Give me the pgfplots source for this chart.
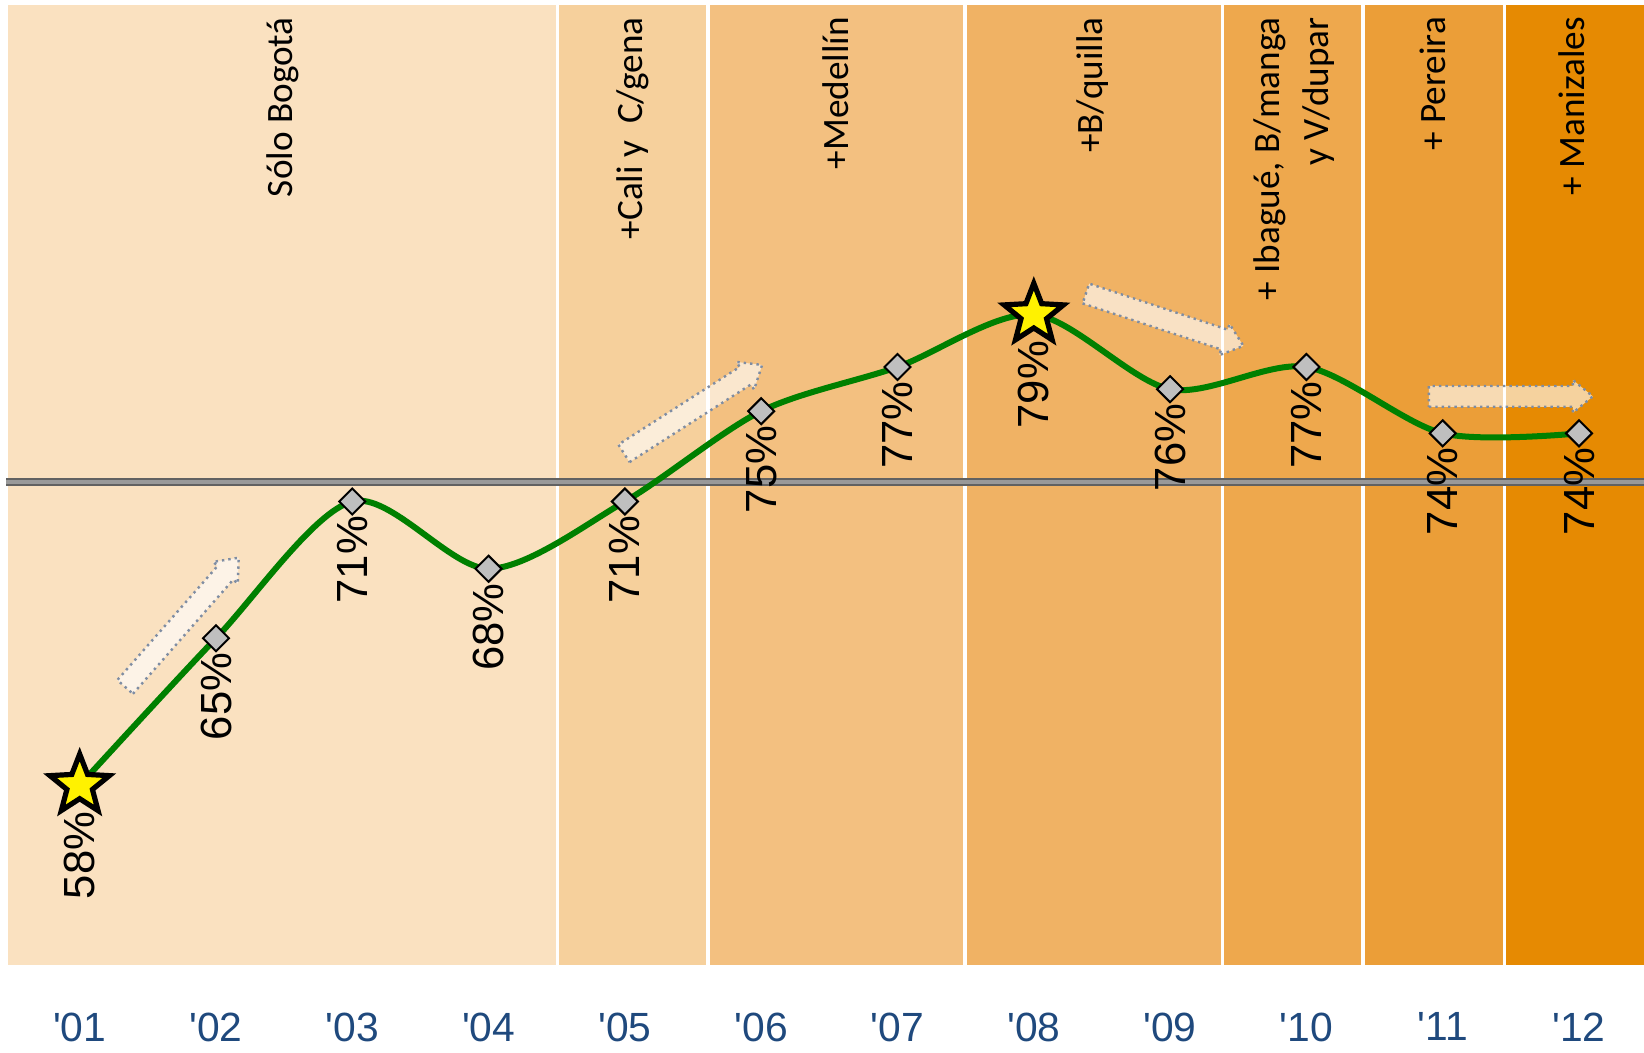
\documentclass[border=0pt]{standalone}
\usepackage{fontspec}
\setmainfont{Liberation Sans}
\newfontfamily\carlito{Carlito}
\newfontfamily\tickfont{Liberation Sans}[Ligatures=TeXOff]
\usepackage{pgfplots}
\pgfplotsset{compat=1.18}
\definecolor{bA}{HTML}{FAE1C0}
\definecolor{bB}{HTML}{F6D09C}
\definecolor{bC}{HTML}{F3C080}
\definecolor{bD}{HTML}{F0B264}
\definecolor{bE}{HTML}{EEA84D}
\definecolor{bF}{HTML}{EB9E38}
\definecolor{bG}{HTML}{E68A02}
\definecolor{tickblue}{HTML}{1F497D}
\definecolor{lgreen}{HTML}{008000}
\definecolor{mgray}{HTML}{BFBFBF}
\definecolor{arrowgray}{HTML}{7F8DA3}
\pgfdeclareplotmark{fivestar}{%
  \pgfpathmoveto{\pgfqpointpolar{90}{\pgfplotmarksize}}%
  \pgfpathlineto{\pgfqpointpolar{126}{0.43\pgfplotmarksize}}%
  \pgfpathlineto{\pgfqpointpolar{162}{\pgfplotmarksize}}%
  \pgfpathlineto{\pgfqpointpolar{198}{0.43\pgfplotmarksize}}%
  \pgfpathlineto{\pgfqpointpolar{234}{\pgfplotmarksize}}%
  \pgfpathlineto{\pgfqpointpolar{270}{0.43\pgfplotmarksize}}%
  \pgfpathlineto{\pgfqpointpolar{306}{\pgfplotmarksize}}%
  \pgfpathlineto{\pgfqpointpolar{342}{0.43\pgfplotmarksize}}%
  \pgfpathlineto{\pgfqpointpolar{18}{\pgfplotmarksize}}%
  \pgfpathlineto{\pgfqpointpolar{54}{0.43\pgfplotmarksize}}%
  \pgfpathclose\pgfusepathqfillstroke}

\pgfplotstableread{
x  y      lab
1  58.0   {}
2  64.56  65\%
3  70.66  71\%
4  67.66  68\%
5  70.66  71\%
6  74.69  75\%
7  76.66  77\%
8  79.0   {}
9  75.67  76\%
10 76.66  77\%
11 73.70  74\%
12 73.70  74\%
}\mainseries

\pgfplotstableread{
x  y     lab
1  58.0  58\%
8  79.0  79\%
}\starseries

\newcommand{\blockarrow}[3]{%
  \begin{scope}[shift={(#1)}, rotate=#2]
    \filldraw[draw=arrowgray, densely dotted, line width=0.6pt, fill=white, fill opacity=0.62]
      (-#3/2,-2.6pt) -- (#3/2-5pt,-2.6pt) -- (#3/2-5pt,-4.1pt) -- (#3/2,0pt)
      -- (#3/2-5pt,4.1pt) -- (#3/2-5pt,2.6pt) -- (-#3/2,2.6pt) -- cycle;
  \end{scope}}

\begin{document}
\begin{tikzpicture}
\useasboundingbox (-2.1pt,-21.85pt) rectangle (408.9pt,241.15pt);
\begin{axis}[
  at={(0,0)}, anchor=south west,
  width=408.9pt, height=239.85pt, scale only axis,
  xmin=0.477, xmax=12.477, ymin=50, ymax=92.8,
  axis line style={draw=none},
  ytick=\empty,
  xtick={1,...,12},
  xticklabels={'01,'02,'03,'04,'05,'06,'07,'08,'09,'10,'11,'12},
  major tick length=0pt,
  xticklabel style={font=\tickfont\fontsize{10.2}{12}\selectfont, text=tickblue, yshift=-8.5pt},
  clip=false,
]
% bands
\addplot[fill=bA, draw=none] coordinates {(0.477,50) (4.505,50) (4.505,92.8) (0.477,92.8)} -- cycle;
\addplot[fill=bB, draw=none] coordinates {(4.505,50) (5.61,50) (5.61,92.8) (4.505,92.8)} -- cycle;
\addplot[fill=bC, draw=none] coordinates {(5.61,50) (7.495,50) (7.495,92.8) (5.61,92.8)} -- cycle;
\addplot[fill=bD, draw=none] coordinates {(7.495,50) (9.385,50) (9.385,92.8) (7.495,92.8)} -- cycle;
\addplot[fill=bE, draw=none] coordinates {(9.385,50) (10.415,50) (10.415,92.8) (9.385,92.8)} -- cycle;
\addplot[fill=bF, draw=none] coordinates {(10.415,50) (11.455,50) (11.455,92.8) (10.415,92.8)} -- cycle;
\addplot[fill=bG, draw=none] coordinates {(11.455,50) (12.477,50) (12.477,92.8) (11.455,92.8)} -- cycle;
% white separators
\foreach \b in {4.505,5.61,7.495,9.385,10.415,11.455} {
  \edef\temp{\noexpand\addplot[white, line width=0.8pt, forget plot] coordinates {(\b,50) (\b,92.8)};}
  \temp
}
% band labels
\begin{scope}[every node/.style={font=\carlito\fontsize{9.3}{12.3}\selectfont, rotate=90, anchor=east, inner sep=0pt, align=right}]
\node at (axis cs:2.49,92.3) {Sólo Bogotá};
\node at (axis cs:5.06,92.3) {+Cali y~~C/gena};
\node at (axis cs:6.55,92.3) {+Medellín};
\node at (axis cs:8.43,92.3) {+B/quilla};
\node at (axis cs:9.91,92.3) {+ Ibagué, B/manga\\y V/dupar};
\node at (axis cs:10.93,92.3) {+ Pereira};
\node at (axis cs:11.95,92.3) {+ Manizales};
\end{scope}
% average line
\addplot[color=black!62, line width=2pt] coordinates {(0.46,71.55) (12.477,71.55)};
\addplot[color=black!40, line width=1.0pt] coordinates {(0.46,71.55) (12.477,71.55)};
% arrow anchors
\coordinate (a1) at (axis cs:1.75,65.27);
\coordinate (a2) at (axis cs:5.5,74.78);
\coordinate (a3) at (axis cs:8.96,78.77);
\coordinate (a4) at (axis cs:11.5,75.35);
% main line
\addplot[color=lgreen, line width=1.5pt, smooth,
  mark=square*, mark size=2.3pt,
  mark options={rotate=45, fill=mgray, draw=black, line width=0.5pt, solid},
  nodes near coords, point meta=explicit symbolic,
  every node near coord/.append style={font=\fontsize{10.9}{12}\selectfont, text=black, rotate=90, anchor=east, xshift=-3.4pt, inner sep=0pt},
] table[x=x, y=y, meta=lab] {\mainseries};
% stars
\addplot[only marks, mark=fivestar, mark size=7.8pt,
  mark options={fill=yellow, draw=black, line width=1.3pt},
  nodes near coords, point meta=explicit symbolic,
  every node near coord/.append style={font=\fontsize{10.9}{12}\selectfont, text=black, rotate=90, anchor=east, xshift=-6pt, inner sep=0pt},
] table[x=x, y=y, meta=lab] {\starseries};
\end{axis}
\blockarrow{a1}{48.7}{43pt}
\blockarrow{a2}{32.6}{41pt}
\blockarrow{a3}{-18.4}{41.5pt}
\blockarrow{a4}{0}{41pt}
\end{tikzpicture}
\end{document}
